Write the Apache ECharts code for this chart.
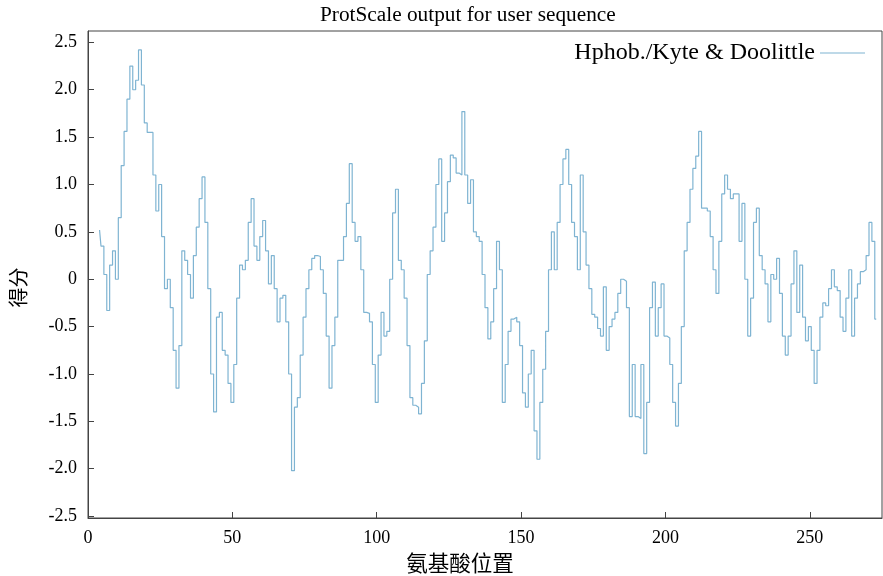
<!DOCTYPE html>
<html>
<head>
<meta charset="utf-8">
<script src="https://cdn.jsdelivr.net/npm/echarts@6/dist/echarts.min.js"></script>
<style>
html,body{margin:0;padding:0;background:#fff;}
#chart{width:883px;height:576px;}
</style>
</head>
<body>
<div id="chart"></div>
<script>
const titleText = 'ProtScale output for user sequence';
const seriesName = 'Hphob./Kyte & Doolittle';
const xAxisName = '氨基酸位置';
const yAxisName = '得分';
const firstPosition = 4;
const yTicks = [-2.5, -2.0, -1.5, -1.0, -0.5, 0, 0.5, 1.0, 1.5, 2.0, 2.5];
const scores = [
  0.52, 0.35, 0.05, -0.33, 0.15, 0.3, 0.0, 0.65, 1.2, 1.56,
  1.9, 2.25, 2.0, 2.1, 2.42, 2.05, 1.65, 1.55, 1.55, 1.1,
  0.72, 1.0, 0.45, -0.1, 0.0, -0.3, -0.75, -1.15, -0.7, 0.3,
  0.2, 0.05, -0.2, 0.25, 0.55, 0.85, 1.08, 0.6, -0.1, -1.0,
  -1.4, -0.4, -0.35, -0.75, -0.8, -1.1, -1.3, -0.9, -0.2, 0.15,
  0.1, 0.2, 0.6, 0.85, 0.35, 0.2, 0.45, 0.62, 0.3, -0.05,
  0.25, -0.1, -0.45, -0.2, -0.17, -0.45, -1.0, -2.02, -1.35, -1.25,
  -0.8, -0.4, -0.1, 0.1, 0.22, 0.25, 0.24, 0.1, -0.15, -0.6,
  -1.15, -0.7, -0.4, 0.2, 0.2, 0.45, 0.8, 1.22, 0.6, 0.4,
  0.45, 0.1, -0.35, -0.36, -0.45, -0.9, -1.3, -0.8, -0.35, -0.6,
  -0.55, 0.0, 0.7, 0.95, 0.2, 0.1, -0.2, -0.7, -1.25, -1.33,
  -1.35, -1.42, -1.1, -0.65, 0.05, 0.3, 0.55, 1.0, 1.27, 0.4,
  0.7, 1.03, 1.31, 1.28, 1.12, 1.1, 1.77, 1.1, 0.8, 1.05,
  0.5, 0.45, 0.4, 0.05, -0.3, -0.63, -0.45, -0.1, 0.4, 0.1,
  -1.3, -0.9, -0.55, -0.42, -0.4, -0.45, -0.7, -1.2, -1.35, -1.0,
  -0.75, -1.6, -1.9, -1.3, -0.95, -0.55, 0.1, 0.5, 0.1, 0.6,
  1.0, 1.27, 1.37, 1.0, 0.6, 0.45, 0.1, 1.1, 0.5, 0.15,
  -0.1, -0.37, -0.4, -0.52, -0.6, -0.08, -0.75, -0.5, -0.42, -0.35,
  -0.15, 0.0, -0.02, -0.3, -1.45, -0.9, -1.45, -1.47, -0.9, -1.84,
  -1.3, -0.3, -0.03, -0.6, -0.3, -0.05, -0.6, -0.62, -0.9, -1.3,
  -1.55, -1.1, -0.5, 0.3, 0.6, 0.95, 1.17, 1.3, 1.56, 0.75,
  0.75, 0.72, 0.45, 0.1, -0.15, 0.4, 0.9, 1.1, 0.95, 0.85,
  0.9, 0.9, 0.4, 0.8, 0.0, -0.6, -0.2, 0.6, 0.75, 0.25,
  0.1, -0.05, -0.45, 0.05, 0.0, 0.22, -0.15, -0.6, -0.8, -0.6,
  -0.05, 0.3, -0.35, 0.15, -0.4, -0.65, -0.5, -0.75, -1.1, -0.75,
  -0.4, -0.25, -0.28, -0.1, 0.1, -0.08, -0.12, -0.4, -0.55, -0.2,
  0.1, -0.6, -0.2, -0.05, 0.08, 0.1, 0.25, 0.6, 0.4, -0.42
];
const positions = scores.map((_, i) => firstPosition + i);
const points = positions.map((p, i) => [p, scores[i]]);

const lineColor = '#7fb4d2';
const serif = '"Liberation Serif", "DejaVu Serif", serif';
const cjk = '"Noto Sans CJK SC", sans-serif';
const chart = echarts.init(document.getElementById('chart'), null, {renderer: 'canvas'});
chart.setOption({
  animation: false,
  backgroundColor: '#ffffff',
  title: {
    text: titleText,
    left: 320,
    top: 5,
    padding: 0,
    textStyle: {fontFamily: serif, fontSize: 21.3, fontWeight: 'normal', color: '#000'}
  },
  legend: {
    data: [{name: seriesName, icon: 'rect'}],
    right: 18,
    top: 41,
    padding: 0,
    align: 'right',
    itemWidth: 45,
    itemHeight: 1.2,
    itemGap: 12,
    itemStyle: {color: lineColor},
    textStyle: {fontFamily: serif, fontSize: 24, color: '#000'}
  },
  grid: {
    left: 88, right: 1, top: 31, bottom: 58,
    outerBoundsMode: 'none',
    containLabel: false,
    show: true, borderColor: '#444', borderWidth: 1, backgroundColor: 'transparent'
  },
  xAxis: {
    type: 'value',
    min: 0, max: 275, interval: 50,
    name: xAxisName,
    nameLocation: 'middle',
    nameGap: 27,
    nameTextStyle: {fontFamily: cjk, fontSize: 21.5, color: '#000', padding: [0, 50, 0, 0]},
    axisLine: {show: true, onZero: false, lineStyle: {color: '#444'}},
    axisTick: {show: true, inside: true, length: 6, lineStyle: {color: '#444'}},
    axisLabel: {fontFamily: serif, fontSize: 18, color: '#000', margin: 11, showMaxLabel: false},
    splitLine: {show: false}
  },
  yAxis: {
    type: 'value',
    min: -2.52, max: 2.62,
    name: yAxisName,
    nameLocation: 'middle',
    nameGap: 60,
    nameRotate: 90,
    nameTextStyle: {fontFamily: cjk, fontSize: 20, color: '#000', padding: [0, 26, 0, 0]},
    axisLine: {show: true, onZero: false, lineStyle: {color: '#444'}},
    axisTick: {show: true, inside: true, length: 6, customValues: yTicks, lineStyle: {color: '#444'}},
    axisLabel: {
      fontFamily: serif, fontSize: 18, color: '#000', margin: 11,
      customValues: yTicks,
      formatter: v => (Math.abs(v) < 1e-9 ? '0' : v.toFixed(1))
    },
    splitLine: {show: false}
  },
  series: [{
    name: seriesName,
    type: 'line',
    step: 'middle',
    data: points,
    showSymbol: false,
    symbol: 'none',
    lineStyle: {color: lineColor, width: 1.2},
    itemStyle: {color: lineColor}
  }]
});
</script>
</body>
</html>
